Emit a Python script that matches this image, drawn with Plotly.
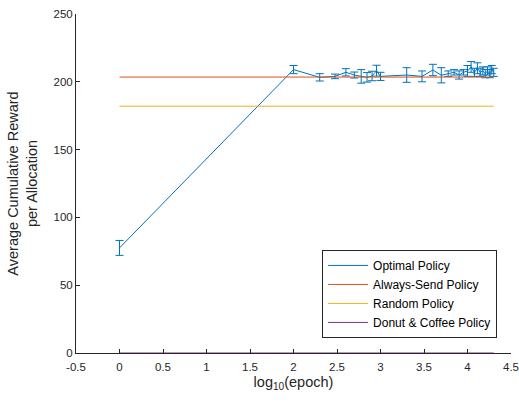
import numpy as np
import plotly.graph_objects as go

epochs = [1, 100, 200, 300, 400, 500, 600, 700, 800, 900, 1000,
          2000, 3000, 4000, 5000, 6000, 7000, 8000, 9000, 10000,
          11000, 12000, 13000, 14000, 15000, 16000, 17000, 18000, 19000, 20000]
optimal = [77.5, 209, 203.3, 204, 207, 205, 204, 203.3, 204.3, 208.2, 204,
           205, 204, 208.7, 204.8, 206, 207, 205, 207, 208,
           211, 207, 210, 207, 208, 206, 208, 206, 209, 207]
optimal_err = [5.5, 3, 2.7, 1.7, 2.7, 2.2, 5, 3.5, 3.5, 4, 3,
               5.4, 4, 4.2, 5.6, 2, 2, 3, 2, 4,
               4, 3, 4, 3, 3, 3, 3, 3, 3, 3]
always_send = 203.5
random_policy = 182
donut_coffee = 0

x = np.log10(epochs)
x_ends = [x[0], x[-1]]

fig = go.Figure()
fig.add_trace(go.Scatter(
    x=x, y=optimal, mode="lines", name="Optimal Policy",
    line=dict(color="#0072BD", width=1),
    error_y=dict(type="data", array=optimal_err, color="#0072BD", thickness=1, width=4),
))
fig.add_trace(go.Scatter(x=x_ends, y=[always_send] * 2, mode="lines",
                         name="Always-Send Policy", line=dict(color="#D95319", width=1)))
fig.add_trace(go.Scatter(x=x_ends, y=[random_policy] * 2, mode="lines",
                         name="Random Policy", line=dict(color="#EDB120", width=1)))
fig.add_trace(go.Scatter(x=x_ends, y=[donut_coffee] * 2, mode="lines",
                         name="Donut & Coffee Policy", line=dict(color="#7E2F8E", width=1)))

axis_common = dict(showgrid=False, zeroline=False, showline=True, linecolor="#262626",
                   linewidth=1, ticks="inside", ticklen=4, tickcolor="#262626",
                   tickfont=dict(size=11.5, color="#262626"), automargin=False)

fig.update_layout(
    width=519, height=402,
    margin=dict(l=76, r=8, t=14, b=49),
    paper_bgcolor="white", plot_bgcolor="white",
    font=dict(family="Liberation Sans, Arial, sans-serif", color="#262626"),
    xaxis=dict(range=[-0.5, 4.5], tickvals=[-0.5, 0, 0.5, 1, 1.5, 2, 2.5, 3, 3.5, 4, 4.5],
               ticktext=["-0.5", "0", "0.5", "1", "1.5", "2", "2.5", "3", "3.5", "4", "4.5"],
               ticklabelstandoff=3,
               title=dict(text="log<sub>10</sub>(epoch)", font=dict(size=14.5), standoff=5),
               **axis_common),
    yaxis=dict(range=[0, 250], tickvals=[0, 50, 100, 150, 200, 250],
               title=dict(text="Average Cumulative Reward<br>per Allocation", font=dict(size=14.5),
                          standoff=12),
               **axis_common),
    legend=dict(x=0.968, y=0.304, xanchor="right", yanchor="top",
                bgcolor="white", bordercolor="#262626", borderwidth=1,
                font=dict(size=12, color="#000000"), tracegroupgap=0,
                itemwidth=40),
    showlegend=True,
)

fig.write_html("out.html")
